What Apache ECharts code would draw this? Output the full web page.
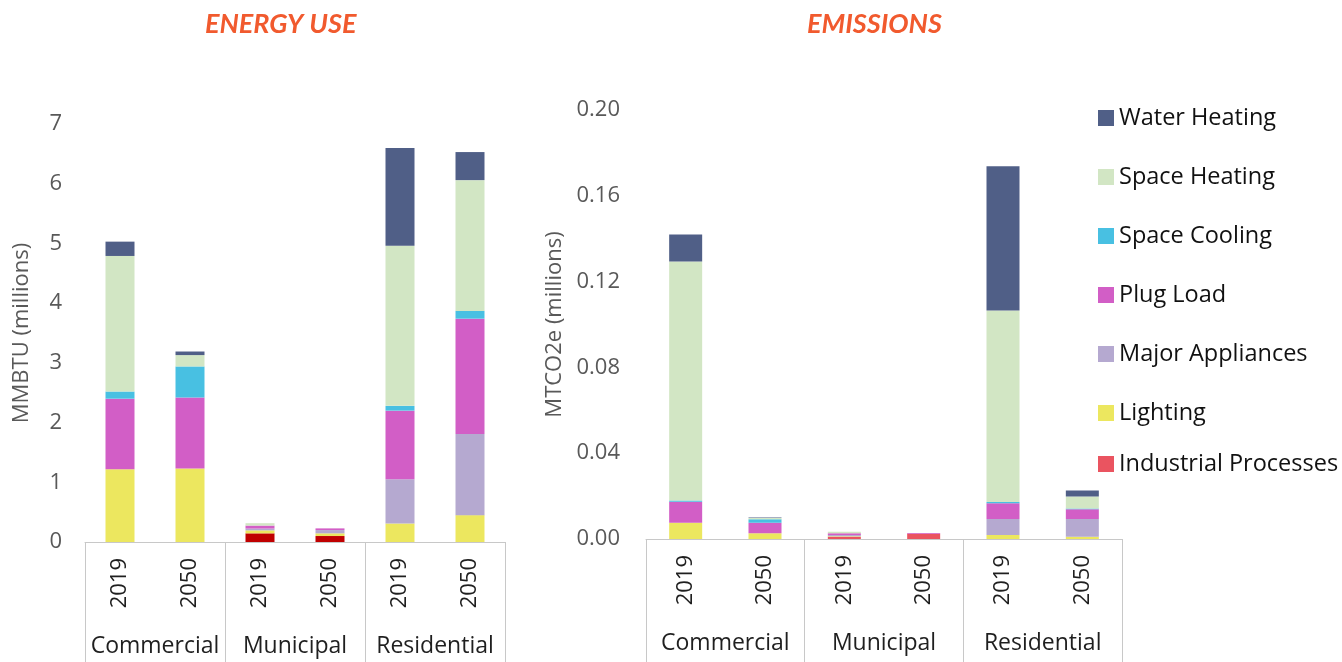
<!DOCTYPE html>
<html>
<head>
    <meta charset="utf-8">
    <title>Energy use and emissions</title>
    <script src="https://cdn.jsdelivr.net/npm/echarts@6/dist/echarts.min.js"></script>
    <style>
        html, body { margin: 0; padding: 0; background: #fff; }
        #main { width: 1342px; height: 662px; }
    </style>
</head>
<body>
    <div id="main"></div>
    <script type="text/javascript">
        const years = ['2019', '2050', '2019', '2050', '2019', '2050'];
        const sectors = ['Commercial', 'Municipal', 'Residential'];
        const energyTicks = [0, 1, 2, 3, 4, 5, 6, 7];
        const emissionTicks = ['0.00', '0.04', '0.08', '0.12', '0.16', '0.20'];

        // stacking order, bottom to top
        const seriesNames = ['Industrial Processes', 'Lighting', 'Major Appliances', 'Plug Load', 'Space Cooling', 'Space Heating', 'Water Heating'];

        // MMBTU (millions)
        const energyIndustrial = [0, 0, 0.145, 0.10, 0, 0];
        const energyLighting = [1.22, 1.23, 0.05, 0.045, 0.31, 0.45];
        const energyMajor = [0, 0, 0.03, 0.055, 0.74, 1.36];
        const energyPlug = [1.18, 1.19, 0.05, 0.028, 1.15, 1.93];
        const energyCooling = [0.12, 0.52, 0, 0, 0.08, 0.13];
        const energyHeating = [2.27, 0.19, 0.04, 0, 2.68, 2.19];
        const energyWater = [0.24, 0.06, 0, 0, 1.64, 0.47];

        // MTCO2e (millions)
        const emitIndustrial = [0, 0, 0.001, 0.0025, 0, 0];
        const emitLighting = [0.0076, 0.0027, 0.0003, 0, 0.0019, 0.0011];
        const emitMajor = [0, 0, 0.0006, 0, 0.0074, 0.0082];
        const emitPlug = [0.0098, 0.0049, 0.0008, 0.0003, 0.0074, 0.0046];
        const emitCooling = [0.0005, 0.0016, 0, 0, 0.0005, 0.0003];
        const emitHeating = [0.1115, 0.0006, 0.0007, 0, 0.0893, 0.0056];
        const emitWater = [0.0126, 0.0002, 0, 0, 0.0673, 0.0028];

        const colors = {
            'Water Heating': '#505f87',
            'Space Heating': '#d2e6c4',
            'Space Cooling': '#48c0e2',
            'Plug Load': '#d25ec6',
            'Major Appliances': '#b5a9d0',
            'Lighting': '#ece75f',
            'Industrial Processes': '#ea5460'
        };
        const energyIndustrialColor = '#c00000';

        const energyData = [energyIndustrial, energyLighting, energyMajor, energyPlug, energyCooling, energyHeating, energyWater];
        const emitData = [emitIndustrial, emitLighting, emitMajor, emitPlug, emitCooling, emitHeating, emitWater];

        const font = 'Open Sans';
        const axisGray = '#c8c8c8';

        function makeSeries(dataSets, axisIndex, stack, width) {
            return dataSets.map((d, i) => {
                const name = seriesNames[i];
                let color = colors[name];
                if (axisIndex === 0 && name === 'Industrial Processes') color = energyIndustrialColor;
                return {
                    name: name,
                    type: 'bar',
                    stack: stack,
                    xAxisIndex: axisIndex * 2,
                    yAxisIndex: axisIndex,
                    barWidth: width,
                    itemStyle: { color: color },
                    emphasis: { disabled: true },
                    data: d
                };
            });
        }

        function yearAxis(grid) {
            return {
                type: 'category',
                gridIndex: grid,
                data: years,
                axisLine: { lineStyle: { color: axisGray, width: 1 } },
                axisTick: { show: false },
                axisLabel: { rotate: 90, margin: 16, fontSize: 22, fontFamily: font, color: '#1f1f1f' }
            };
        }

        function sectorAxis(grid, len) {
            return {
                type: 'category',
                gridIndex: grid,
                position: 'bottom',
                data: sectors,
                axisLine: { show: false },
                axisTick: { show: true, length: len, lineStyle: { color: axisGray } },
                axisLabel: { margin: 93, fontSize: 23, fontFamily: font, color: '#1f1f1f', interval: 0 }
            };
        }

        const legendItems1 = ['Water Heating', 'Space Heating', 'Space Cooling', 'Plug Load', 'Major Appliances', 'Lighting']
            .map(n => ({ name: n, itemStyle: { color: colors[n] } }));
        const legendItems2 = [{ name: 'Industrial Processes', itemStyle: { color: colors['Industrial Processes'] } }];
        const legendText = { fontSize: 23.5, fontFamily: font, color: '#111111', lineHeight: 24 };
        const titleText = { fontSize: 27, fontStyle: 'italic', fontWeight: 'bold', fontFamily: 'Lato', color: '#f15a2e' };

        const myChart = echarts.init(document.getElementById('main'));
        const options = {
            animation: false,
            title: [
                { text: 'ENERGY USE', left: 200, top: 6, textStyle: titleText },
                { text: 'EMISSIONS', left: 802, top: 6, textStyle: titleText }
            ],
            legend: [
                { data: legendItems1, orient: 'vertical', left: 1093, top: 101, itemWidth: 16, itemHeight: 16,
                  itemGap: 35, icon: 'rect', textStyle: legendText, selectedMode: false },
                { data: legendItems2, orient: 'vertical', left: 1093, top: 447, itemWidth: 16, itemHeight: 16,
                  icon: 'rect', textStyle: legendText, selectedMode: false }
            ],
            grid: [
                { left: 85, right: 837, top: 124, bottom: 120 },
                { left: 646, right: 220, top: 110, bottom: 123 }
            ],
            xAxis: [
                yearAxis(0),
                sectorAxis(0, 120),
                yearAxis(1),
                sectorAxis(1, 123)
            ],
            yAxis: [
                {
                    type: 'value', gridIndex: 0, min: 0, max: 7, interval: 1,
                    name: 'MMBTU (millions)', nameLocation: 'middle', nameGap: 52,
                    nameTextStyle: { fontSize: 22, fontFamily: font, color: '#595959' },
                    axisLine: { show: false }, axisTick: { show: false }, splitLine: { show: false },
                    axisLabel: { margin: 23, fontSize: 22, fontFamily: font, color: '#595959',
                                 formatter: v => String(energyTicks[Math.round(v)]) }
                },
                {
                    type: 'value', gridIndex: 1, min: 0, max: 0.2, interval: 0.04,
                    name: 'MTCO2e (millions)', nameLocation: 'middle', nameGap: 80,
                    nameTextStyle: { fontSize: 22, fontFamily: font, color: '#595959' },
                    axisLine: { show: false }, axisTick: { show: false }, splitLine: { show: false },
                    axisLabel: { margin: 26, fontSize: 22, fontFamily: font, color: '#595959',
                                 formatter: v => emissionTicks[Math.round(v / 0.04)] }
                }
            ],
            series: makeSeries(energyData, 0, 'energy', 29).concat(makeSeries(emitData, 1, 'emit', 33))
        };
        myChart.setOption(options);
    </script>
</body>
</html>
